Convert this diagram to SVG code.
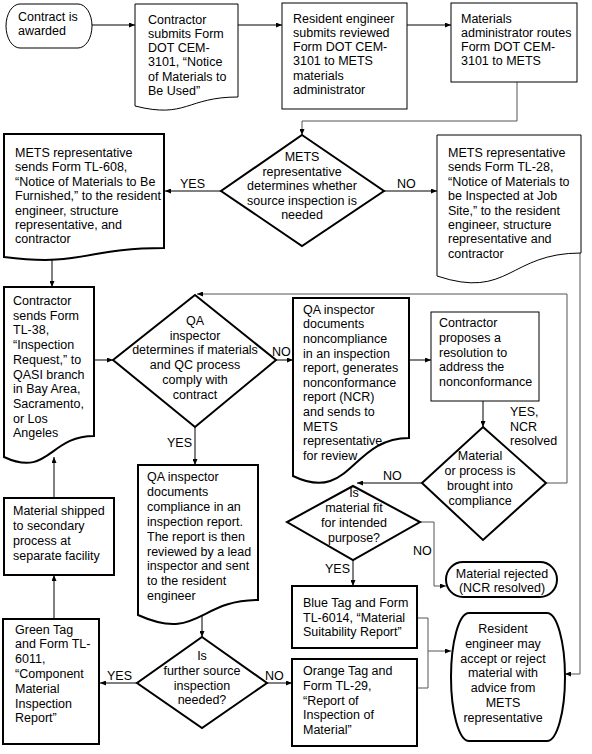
<svg xmlns="http://www.w3.org/2000/svg" width="592" height="754" viewBox="0 0 592 754">
<defs>
<style>
.thin{fill:#fff;stroke:#000;stroke-width:1}
.thick{fill:#fff;stroke:#000;stroke-width:2}
.t{font-family:"Liberation Sans",Arial,sans-serif;font-size:12.5px;fill:#000}
.c{text-anchor:middle}
.conn{fill:none;stroke:#000;stroke-width:1}
.gray{stroke:#555}
</style>
<marker id="ah" viewBox="0 0 6 5" refX="6" refY="2.5" markerWidth="6" markerHeight="5" markerUnits="userSpaceOnUse" orient="auto">
<path d="M0,0 L6,2.5 L0,5 Z" fill="#000"/>
</marker>
</defs>
<rect width="592" height="754" fill="#fff"/>

<g id="connectors">
<path class="conn" d="M92,25 H135" marker-end="url(#ah)"/>
<path class="conn" d="M238,25 H282" marker-end="url(#ah)"/>
<path class="conn" d="M407,25 H451" marker-end="url(#ah)"/>
<path class="conn gray" d="M517,82 V121 H302 V135" marker-end="url(#ah)"/>
<path class="conn" d="M221,191 H165" marker-end="url(#ah)"/>
<path class="conn" d="M384,191 H437" marker-end="url(#ah)"/>
<path class="conn" d="M52,245 V287" marker-end="url(#ah)"/>
<path class="conn" d="M94,360 H113" marker-end="url(#ah)"/>
<path class="conn" d="M276,360 H293" marker-end="url(#ah)"/>
<path class="conn" d="M409,360 H431" marker-end="url(#ah)"/>
<path class="conn" d="M483,401 V427" marker-end="url(#ah)"/>
<path class="conn gray" d="M546,483 H567 V294 H197" marker-end="url(#ah)"/>
<path class="conn" d="M422,483 H357" marker-end="url(#ah)"/>
<path class="conn gray" d="M420,522 H434 V586 H446" marker-end="url(#ah)"/>
<path class="conn" d="M353,560 V586" marker-end="url(#ah)"/>
<path class="conn gray" d="M417,618 H428 V688 H417"/>
<path class="conn gray" d="M428,651 H451" marker-end="url(#ah)"/>
<path class="conn gray" d="M580,253 V674 H565" marker-end="url(#ah)"/>
<path class="conn" d="M195,427 V465" marker-end="url(#ah)"/>
<path class="conn" d="M202,610 V637" marker-end="url(#ah)"/>
<path class="conn" d="M137,683 H100" marker-end="url(#ah)"/>
<path class="conn" d="M267,683 H292" marker-end="url(#ah)"/>
<path class="conn" d="M54,619 V575" marker-end="url(#ah)"/>
<path class="conn" d="M54,498 V457" marker-end="url(#ah)"/>
<text class="t" x="180" y="187.5">YES</text>
<text class="t" x="397" y="187.5">NO</text>
<text class="t" x="272" y="356">NO</text>
<text class="t" x="167" y="447">YES</text>
<text class="t" x="510" y="416">YES,</text>
<text class="t" x="510" y="430.5">NCR</text>
<text class="t" x="510" y="445">resolved</text>
<text class="t" x="383" y="480">NO</text>
<text class="t" x="413" y="555">NO</text>
<text class="t" x="325" y="573">YES</text>
<text class="t" x="107" y="680">YES</text>
<text class="t" x="265" y="680">NO</text>
</g>

<g id="contract-awarded">
<rect class="thin" x="6" y="4" width="86" height="44" rx="14" ry="22"/>
<text class="t" x="18" y="21">Contract is</text>
<text class="t" x="18" y="35">awarded</text>
</g>

<g id="contractor-submits">
<path class="thin" d="M135,4 H238 V97 C186.5,97 186.5,119 135,106 Z"/>
<text class="t" x="148" y="23.5">Contractor</text>
<text class="t" x="148" y="37.8">submits Form</text>
<text class="t" x="148" y="52.1">DOT CEM-</text>
<text class="t" x="148" y="66.4">3101, “Notice</text>
<text class="t" x="148" y="80.7">of Materials to</text>
<text class="t" x="148" y="95">Be Used”</text>
</g>

<g id="resident-submits">
<rect class="thin" x="282" y="3" width="125" height="106"/>
<text class="t" x="293" y="22.5">Resident engineer</text>
<text class="t" x="293" y="36.8">submits reviewed</text>
<text class="t" x="293" y="51.1">Form DOT CEM-</text>
<text class="t" x="293" y="65.4">3101 to METS</text>
<text class="t" x="293" y="79.7">materials</text>
<text class="t" x="293" y="94">administrator</text>
</g>

<g id="materials-admin">
<rect class="thin" x="451" y="3" width="126" height="79"/>
<text class="t" x="461" y="22.5">Materials</text>
<text class="t" x="461" y="36.8">administrator routes</text>
<text class="t" x="461" y="51.1">Form DOT CEM-</text>
<text class="t" x="461" y="65.4">3101 to METS</text>
</g>

<g id="source-inspection-decision">
<path class="thick" d="M302,135 L384,191 L302,246 L221,191 Z"/>
<text class="t c" x="302" y="161">METS</text>
<text class="t c" x="302" y="175.5">representative</text>
<text class="t c" x="302" y="190">determines whether</text>
<text class="t c" x="302" y="204.5">source inspection is</text>
<text class="t c" x="302" y="219">needed</text>
</g>

<g id="tl608">
<path class="thick" d="M4,134 H164 V248 C84,248 84,267 4,257 Z"/>
<text class="t" x="15" y="157">METS representative</text>
<text class="t" x="15" y="171.4">sends Form TL-608,</text>
<text class="t" x="15" y="185.8">“Notice of Materials to Be</text>
<text class="t" x="15" y="200.2">Furnished,” to the resident</text>
<text class="t" x="15" y="214.6">engineer, structure</text>
<text class="t" x="15" y="229">representative, and</text>
<text class="t" x="15" y="243.4">contractor</text>
</g>

<g id="tl28">
<path class="thin" d="M437,135 H581 V253 C509,253 509,300 437,276 Z"/>
<text class="t" x="448" y="157">METS representative</text>
<text class="t" x="448" y="171.4">sends Form TL-28,</text>
<text class="t" x="448" y="185.8">“Notice of Materials to</text>
<text class="t" x="448" y="200.2">be Inspected at Job</text>
<text class="t" x="448" y="214.6">Site,” to the resident</text>
<text class="t" x="448" y="229">engineer, structure</text>
<text class="t" x="448" y="243.4">representative and</text>
<text class="t" x="448" y="257.8">contractor</text>
</g>

<g id="tl38">
<path class="thick" d="M4,287 H94 V436 C49,436 49,478 4,457 Z"/>
<text class="t" x="13" y="305">Contractor</text>
<text class="t" x="13" y="319.7">sends Form</text>
<text class="t" x="13" y="334.4">TL-38,</text>
<text class="t" x="13" y="349.1">“Inspection</text>
<text class="t" x="13" y="363.8">Request,” to</text>
<text class="t" x="13" y="378.5">QASI branch</text>
<text class="t" x="13" y="393.2">in Bay Area,</text>
<text class="t" x="13" y="407.9">Sacramento,</text>
<text class="t" x="13" y="422.6">or Los</text>
<text class="t" x="13" y="437.3">Angeles</text>
</g>

<g id="qa-decision">
<path class="thick" d="M195,295 L276,360 L195,427 L113,360 Z"/>
<text class="t c" x="195" y="325">QA</text>
<text class="t c" x="195" y="339.7">inspector</text>
<text class="t c" x="195" y="354.4">determines if materials</text>
<text class="t c" x="195" y="369.1">and QC process</text>
<text class="t c" x="195" y="383.8">comply with</text>
<text class="t c" x="195" y="398.5">contract</text>
</g>

<g id="noncompliance">
<path class="thick" d="M293,298 H409 V438 C351,438 351,504 293,476 Z"/>
<text class="t" x="303" y="313.5">QA inspector</text>
<text class="t" x="303" y="328.2">documents</text>
<text class="t" x="303" y="342.8">noncompliance</text>
<text class="t" x="303" y="357.5">in an inspection</text>
<text class="t" x="303" y="372.1">report, generates</text>
<text class="t" x="303" y="386.8">nonconformance</text>
<text class="t" x="303" y="401.4">report (NCR)</text>
<text class="t" x="303" y="416.1">and sends to</text>
<text class="t" x="303" y="430.7">METS</text>
<text class="t" x="303" y="445.4">representative</text>
<text class="t" x="303" y="460">for review</text>
</g>

<g id="contractor-proposes">
<rect class="thin" x="431" y="312" width="108" height="89"/>
<text class="t" x="439" y="327">Contractor</text>
<text class="t" x="439" y="341.8">proposes a</text>
<text class="t" x="439" y="356.6">resolution to</text>
<text class="t" x="439" y="371.4">address the</text>
<text class="t" x="439" y="386.2">nonconformance</text>
</g>

<g id="compliance-decision">
<path class="thick" d="M483,427 L546,483 L483,540 L422,483 Z"/>
<text class="t c" x="480" y="460">Material</text>
<text class="t c" x="480" y="475">or process is</text>
<text class="t c" x="480" y="490">brought into</text>
<text class="t c" x="480" y="504.5">compliance</text>
</g>

<g id="fit-decision">
<path class="thick" d="M353,486 L420,522 L353,560 L287,522 Z"/>
<text class="t c" x="354" y="497">Is</text>
<text class="t c" x="354" y="512">material fit</text>
<text class="t c" x="354" y="527">for intended</text>
<text class="t c" x="354" y="541.5">purpose?</text>
</g>

<g id="material-rejected">
<rect class="thick" x="446" y="562" width="111" height="35" rx="17" ry="17.5"/>
<text class="t c" x="502" y="577.5">Material rejected</text>
<text class="t c" x="502" y="592">(NCR resolved)</text>
</g>

<g id="compliance-doc">
<path class="thick" d="M138,465 H258 V600 C198,600 198,642 138,615 Z"/>
<text class="t" x="147" y="481">QA inspector</text>
<text class="t" x="147" y="495.9">documents</text>
<text class="t" x="147" y="510.8">compliance in an</text>
<text class="t" x="147" y="525.7">inspection report.</text>
<text class="t" x="147" y="540.6">The report is then</text>
<text class="t" x="147" y="555.5">reviewed by a lead</text>
<text class="t" x="147" y="570.4">inspector and sent</text>
<text class="t" x="147" y="585.3">to the resident</text>
<text class="t" x="147" y="600.2">engineer</text>
</g>

<g id="material-shipped">
<rect class="thick" x="4" y="498" width="110" height="77"/>
<text class="t" x="13" y="515">Material shipped</text>
<text class="t" x="13" y="530">to secondary</text>
<text class="t" x="13" y="545">process at</text>
<text class="t" x="13" y="560">separate facility</text>
</g>

<g id="further-decision">
<path class="thick" d="M202,637 L267,683 L202,728 L137,683 Z"/>
<text class="t c" x="202" y="660">Is</text>
<text class="t c" x="202" y="675">further source</text>
<text class="t c" x="202" y="689.5">inspection</text>
<text class="t c" x="202" y="703.5">needed?</text>
</g>

<g id="green-tag">
<rect class="thick" x="3" y="619" width="96" height="125"/>
<text class="t" x="15" y="633.5">Green Tag</text>
<text class="t" x="15" y="648.3">and Form TL-</text>
<text class="t" x="15" y="663.1">6011,</text>
<text class="t" x="15" y="677.9">“Component</text>
<text class="t" x="15" y="692.7">Material</text>
<text class="t" x="15" y="707.5">Inspection</text>
<text class="t" x="15" y="722.3">Report”</text>
</g>

<g id="blue-tag">
<rect class="thick" x="292" y="586" width="125" height="62"/>
<text class="t" x="303" y="607">Blue Tag and Form</text>
<text class="t" x="303" y="621.5">TL-6014, “Material</text>
<text class="t" x="303" y="636">Suitability Report”</text>
</g>

<g id="orange-tag">
<rect class="thick" x="292" y="659" width="125" height="87"/>
<text class="t" x="303" y="675">Orange Tag and</text>
<text class="t" x="303" y="689.8">Form TL-29,</text>
<text class="t" x="303" y="704.6">“Report of</text>
<text class="t" x="303" y="719.4">Inspection of</text>
<text class="t" x="303" y="734.2">Material”</text>
</g>

<g id="resident-decides">
<rect class="thick" x="451" y="613" width="114" height="128" rx="18" ry="64"/>
<text class="t c" x="503" y="633">Resident</text>
<text class="t c" x="503" y="647.8">engineer may</text>
<text class="t c" x="503" y="662.6">accept or reject</text>
<text class="t c" x="503" y="677.4">material with</text>
<text class="t c" x="503" y="692.2">advice from</text>
<text class="t c" x="503" y="707">METS</text>
<text class="t c" x="503" y="721.8">representative</text>
</g>
</svg>
